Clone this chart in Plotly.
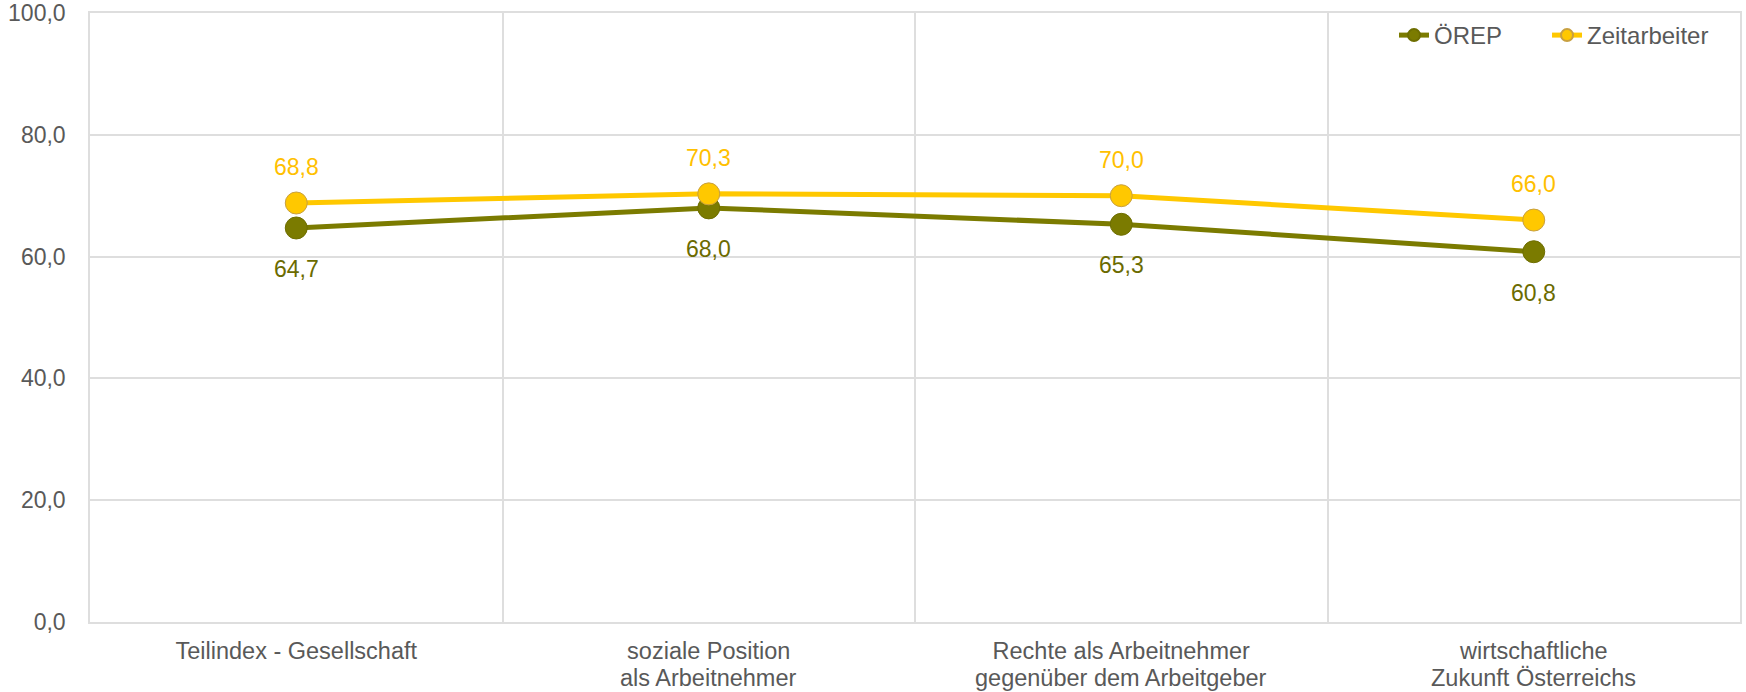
import plotly.graph_objects as go

categories = ["Teilindex - Gesellschaft", "soziale Position<br>als Arbeitnehmer",
              "Rechte als Arbeitnehmer<br>gegenüber dem Arbeitgeber", "wirtschaftliche<br>Zukunft Österreichs"]
orep = [64.7, 68.0, 65.3, 60.8]
zeit = [68.8, 70.3, 70.0, 66.0]
y_ticks = [0, 20, 40, 60, 80, 100]
series_names = ["ÖREP", "Zeitarbeiter"]

OLIVE = "#7b7b00"
OLIVE_TXT = "#6b6b00"
YELLOW = "#ffc800"
YELLOW_TXT = "#ffc000"
GREY_TXT = "#595959"
FONT = "Liberation Sans, Arial, Helvetica, sans-serif"
PAD = "\u00a0" * 6

first_lines = [c.split("<br>")[0] for c in categories]
second_lines = [c.split("<br>")[1] if "<br>" in c else "" for c in categories]

fig = go.Figure()
fig.add_trace(go.Scatter(x=categories, y=orep, name=series_names[0] + PAD, mode="lines+markers",
                         line=dict(color=OLIVE, width=5),
                         marker=dict(size=22, color=OLIVE, line=dict(color="#6e6e00", width=1))))
fig.add_trace(go.Scatter(x=categories, y=zeit, name=series_names[1], mode="lines+markers",
                         line=dict(color=YELLOW, width=5),
                         marker=dict(size=22, color=YELLOW, line=dict(color="#c8a040", width=1))))

def fmt(v):
    return f"{v:.1f}".replace(".", ",")

for c, v in zip(categories, orep):
    fig.add_annotation(x=c, y=v, text=fmt(v), showarrow=False, yshift=-41,
                       font=dict(size=23, color=OLIVE_TXT, family=FONT))
for c, v in zip(categories, zeit):
    fig.add_annotation(x=c, y=v, text=fmt(v), showarrow=False, yshift=36,
                       font=dict(size=23, color=YELLOW_TXT, family=FONT))
for c, s in zip(categories, second_lines):
    if s:
        fig.add_annotation(x=c, y=0, text=s, showarrow=False, yanchor="top", yshift=-41,
                           font=dict(size=23.5, color=GREY_TXT, family=FONT))

fig.update_layout(
    width=1746, height=692,
    margin=dict(l=90, r=6, t=13, b=70, autoexpand=False),
    plot_bgcolor="white", paper_bgcolor="white",
    separators=",.",
    font=dict(family=FONT, size=23, color=GREY_TXT),
    showlegend=True,
    legend=dict(orientation="h", x=(1394 - 90) / 1650, xanchor="left", y=1.0, yanchor="top",
                bgcolor="rgba(0,0,0,0)", font=dict(size=24, color=GREY_TXT),
                itemsizing="constant", tracegroupgap=0),
)
fig.update_xaxes(type="category", range=[-0.5, 3.5], tickson="boundaries", showgrid=True,
                 tickvals=categories, ticktext=first_lines,
                 gridcolor="#dedede", gridwidth=1.5, showline=True, linecolor="#dedede",
                 linewidth=1.5, mirror=True, ticks="", ticklabelstandoff=7, automargin=False,
                 tickfont=dict(size=23.5, color=GREY_TXT))
fig.update_yaxes(range=[0, 100], tickvals=y_ticks, tickformat=".1f", showgrid=True,
                 gridcolor="#dedede", gridwidth=1.5, showline=True, linecolor="#dedede",
                 linewidth=1.5, mirror=True, zeroline=False, ticks="", ticklabelstandoff=18,
                 automargin=False, tickfont=dict(size=23, color=GREY_TXT))

fig.write_html("out.html", config={"displayModeBar": False},
               post_script="document.body.style.margin='0';")
